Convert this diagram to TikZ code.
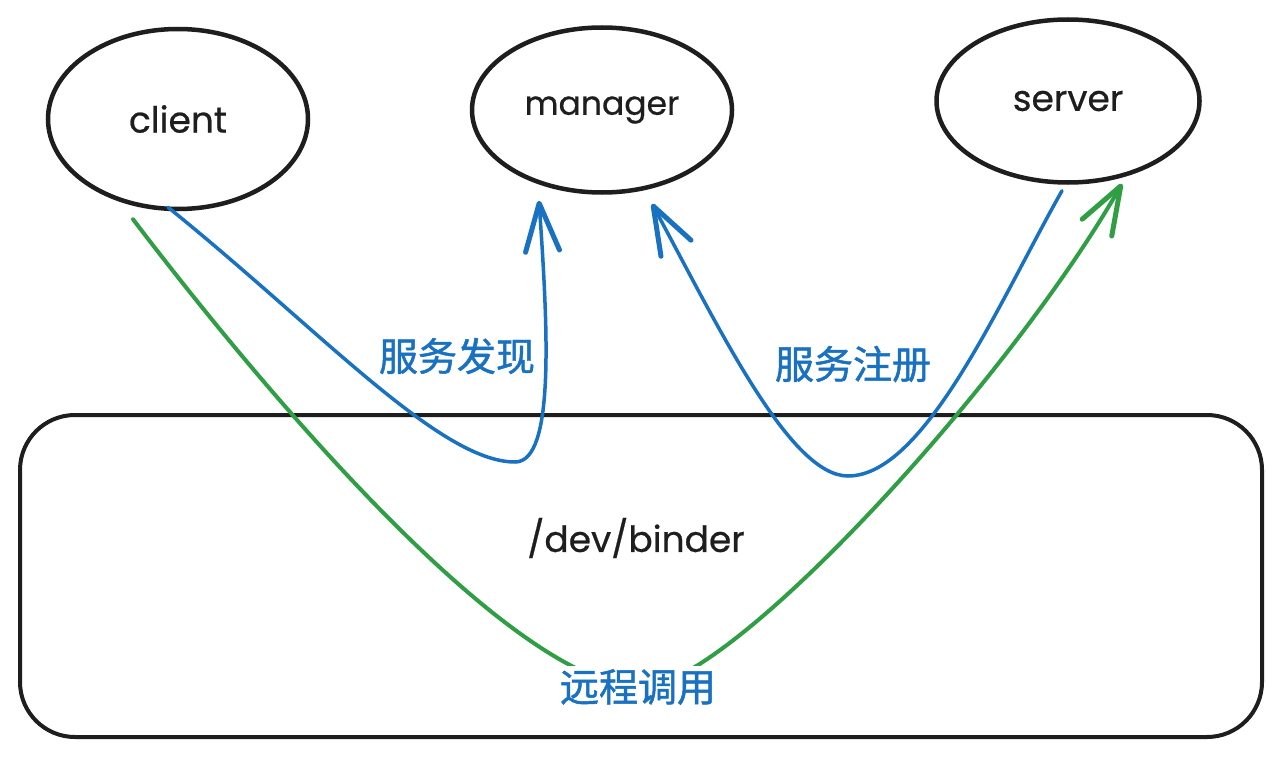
\documentclass[tikz,border=0pt]{standalone}
\usepackage{fontspec}
\setmainfont{Poppins}[FakeBold=0.6]
\newfontfamily\cjk{Noto Sans CJK SC}[FakeBold=1.2]
\usetikzlibrary{arrows.meta,shapes.geometric,calc}
\definecolor{ink}{HTML}{1E1E1E}
\definecolor{eblue}{HTML}{1971C2}
\definecolor{egreen}{HTML}{2F9E44}
\begin{document}
\begin{tikzpicture}[x=1pt,y=-1pt,
  proc/.style={ellipse,draw=ink,line width=4.5pt,inner sep=0pt,
    font=\fontsize{36}{40}\selectfont,text=ink},
  lbl/.style={font=\fontsize{36}{40}\selectfont,text=ink},
  cnlbl/.style={font=\cjk\fontsize{39}{42}\selectfont,text=eblue},
  blueflow/.style={draw=eblue,line width=3.5pt,line cap=round,
    -{Straight Barb[length=48pt,width=34pt,round,line width=5pt]}},
  greenflow/.style={draw=egreen,line width=4pt,line cap=round,
    -{Straight Barb[length=48pt,width=34pt,round,line width=5pt]}},
  boxstyle/.style={draw=ink,line width=4pt,rounded corners=55pt,inner sep=0pt}
]
\useasboundingbox (0,0) rectangle (1281,757);
\fill[white] (0,0) rectangle (1281,757);

\node[boxstyle,minimum width=1242pt,minimum height=322pt] (binder) at (641,576) {};
\node[lbl] (bindertext) at (636,538) {/dev/binder};

\node[proc,minimum width=260pt,minimum height=180pt] (client) at (178,119) {client};
\node[proc,minimum width=260pt,minimum height=165pt] (manager) at (602,110) {\fontsize{33}{40}\selectfont manager};
\node[proc,minimum width=263pt,minimum height=163pt] (server) at (1068,101) {server};

\path (client.south) ++(-10,-4) coordinate (cblue);
\path (client.south) ++(-45,8) coordinate (cgreen);
\path (manager.south) ++(-63,6) coordinate (mtipA);
\path (manager.south) ++(50,9) coordinate (mtipB);
\path (server.south) ++(-6,6) coordinate (sblue);
\path (server.south) ++(54,-1) coordinate (stip);

\draw[blueflow] (cblue) .. controls (320,330) and (440,462) .. (515,462)
  .. controls (555,462) and (548,330) .. (mtipA);
\draw[blueflow] (sblue) .. controls (1000,300) and (925,476) .. (848,476)
  .. controls (790,476) and (720,330) .. (mtipB);
\draw[greenflow] (cgreen) .. controls (240,360) and (500,680) .. (640,688)
  .. controls (730,688) and (1010,380) .. (stip);

\node[cnlbl] (discover) at (457,356) {服务发现};
\node[cnlbl] (register) at (853,364) {服务注册};
\node[cnlbl,fill=white,inner sep=3pt] (rpc) at (638,687) {远程调用};
\end{tikzpicture}
\end{document}
